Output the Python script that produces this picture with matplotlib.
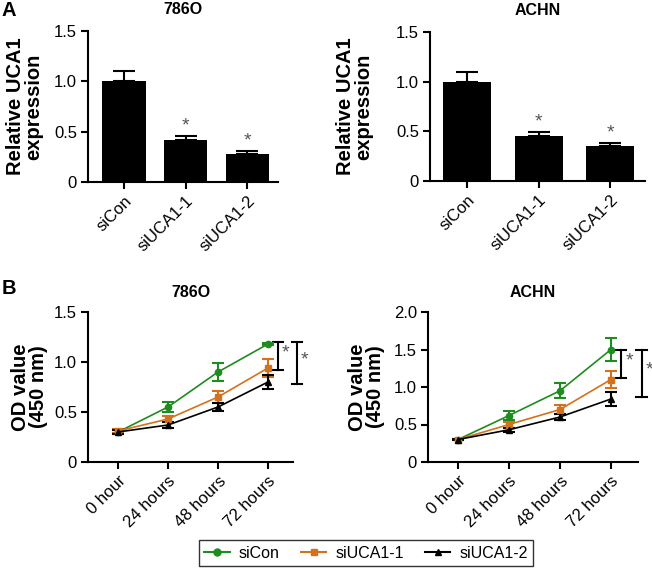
import matplotlib
matplotlib.use("Agg")
import matplotlib.pyplot as plt
from matplotlib.lines import Line2D

plt.rcParams['font.family'] = ['Liberation Sans', 'DejaVu Sans']

# ---------------- data ----------------
groups = ["siCon", "siUCA1-1", "siUCA1-2"]
bar_786o = [1.00, 0.42, 0.28]
bar_786o_err = [0.10, 0.04, 0.03]
bar_achn = [1.00, 0.45, 0.35]
bar_achn_err = [0.10, 0.04, 0.03]

times = ["0 hour", "24 hours", "48 hours", "72 hours"]
od_786o = {
    "siCon": [0.30, 0.55, 0.90, 1.18],
    "siUCA1-1": [0.31, 0.43, 0.65, 0.94],
    "siUCA1-2": [0.30, 0.37, 0.55, 0.80],
}
od_786o_err = {
    "siCon": [0.02, 0.05, 0.09, 0.01],
    "siUCA1-1": [0.02, 0.03, 0.06, 0.09],
    "siUCA1-2": [0.02, 0.03, 0.04, 0.07],
}
od_achn = {
    "siCon": [0.30, 0.62, 0.95, 1.50],
    "siUCA1-1": [0.30, 0.50, 0.70, 1.10],
    "siUCA1-2": [0.30, 0.43, 0.60, 0.84],
}
od_achn_err = {
    "siCon": [0.01, 0.06, 0.10, 0.15],
    "siUCA1-1": [0.01, 0.04, 0.06, 0.11],
    "siUCA1-2": [0.01, 0.03, 0.04, 0.09],
}
# significance brackets: (top, bottom)
sig_786o = [(1.20, 0.92), (1.20, 0.78)]
sig_achn = [(1.50, 1.12), (1.50, 0.87)]

colors = {"siCon": "#1e8c1e", "siUCA1-1": "#d2721c", "siUCA1-2": "#000000"}
markers = {"siCon": "o", "siUCA1-1": "s", "siUCA1-2": "^"}

W, H = 652, 569
fig = plt.figure(figsize=(W / 100, H / 100), dpi=100)

TICK_FS = 12
LABEL_FS = 14.5
TITLE_FS = 11.5


def ax_px(x0, x1, ytop, ybot):
    return fig.add_axes([x0 / W, 1 - ybot / H, (x1 - x0) / W, (ybot - ytop) / H])


def style(ax):
    for s in ["top", "right"]:
        ax.spines[s].set_visible(False)
    for s in ["left", "bottom"]:
        ax.spines[s].set_linewidth(1.5)
    ax.tick_params(axis="both", width=1.5, length=5, labelsize=TICK_FS,
                   direction="out", pad=3)


def bar_panel(ax, vals, errs, title, xlim, width, labx):
    style(ax)
    x = list(range(len(groups)))
    ax.bar(x, vals, width=width, color="black", zorder=2)
    ax.errorbar(x, vals, yerr=[[0] * len(errs), errs], fmt="none", ecolor="black",
                elinewidth=1.5, capsize=8, capthick=1.5, zorder=1)
    for i in range(1, len(groups)):
        ax.text(i, vals[i] + errs[i] + 0.015, "*", ha="center", va="bottom",
                fontsize=14, color="#555555")
    ax.set_xlim(*xlim)
    ax.set_ylim(0, 1.5)
    ax.set_yticks([0, 0.5, 1.0, 1.5])
    ax.set_yticklabels(["0", "0.5", "1.0", "1.5"])
    ax.set_xticks(x)
    ax.set_xticklabels(groups, rotation=45, ha="right", rotation_mode="anchor")
    ax.set_ylabel("Relative UCA1\nexpression", fontsize=LABEL_FS, fontweight="bold",
                  linespacing=0.95)
    ax.yaxis.set_label_coords(labx, 0.5)
    ax.set_title(title, fontsize=TITLE_FS, fontweight="bold", pad=12.5)


def line_panel(ax, data, errs, title, xlim, ylim, yticks, yticklabels, sig, sigx, labx):
    style(ax)
    x = list(range(len(times)))
    for g in groups:
        ax.errorbar(x, data[g], yerr=errs[g], color=colors[g], marker=markers[g],
                    markersize=4.5, linewidth=1.2, elinewidth=1.5, capsize=4,
                    capthick=1.5, clip_on=False, zorder=3)
    ax.set_xlim(*xlim)
    ax.set_ylim(*ylim)
    ax.set_yticks(yticks)
    ax.set_yticklabels(yticklabels)
    ax.set_xticks(x)
    ax.set_xticklabels(times, rotation=45, ha="right", rotation_mode="anchor")
    ax.set_ylabel("OD value\n(450 nm)", fontsize=LABEL_FS, fontweight="bold",
                  linespacing=0.95)
    ax.yaxis.set_label_coords(labx, 0.5)
    ax.set_title(title, fontsize=TITLE_FS, fontweight="bold", pad=11)
    for (top, bot), bx in zip(sig, sigx):
        ax.plot([bx, bx], [bot, top], color="black", lw=1.5, clip_on=False)
        ax.plot([bx - 0.1, bx + 0.1], [top, top], color="black", lw=1.5, clip_on=False)
        ax.plot([bx - 0.1, bx + 0.1], [bot, bot], color="black", lw=1.5, clip_on=False)
        ax.text(bx + 0.08, (top + bot) / 2 + 0.02 * ylim[1], "*", ha="left",
                va="center", fontsize=14, color="#555555", clip_on=False)


axA1 = ax_px(88, 278, 31, 182)
bar_panel(axA1, bar_786o, bar_786o_err, "786O", (-0.585, 2.5), 0.7, -0.237)
axA2 = ax_px(430, 645, 32, 181)
bar_panel(axA2, bar_achn, bar_achn_err, "ACHN", (-0.52, 2.49), 0.67, -0.265)

axB1 = ax_px(88, 293, 312, 462)
line_panel(axB1, od_786o, od_786o_err, "786O", (-0.6, 3.5), (0, 1.5),
           [0, 0.5, 1.0, 1.5], ["0", "0.5", "1.0", "1.5"], sig_786o, [3.2, 3.58],
           -0.195)
axB2 = ax_px(428, 638, 312, 462)
line_panel(axB2, od_achn, od_achn_err, "ACHN", (-0.59, 3.53), (0, 2.0),
           [0, 0.5, 1.0, 1.5, 2.0], ["0", "0.5", "1.0", "1.5", "2.0"], sig_achn,
           [3.2, 3.6], -0.205)

fig.text(2 / W, 1 - 11 / H, "A", fontsize=14.5, fontweight="bold", va="center")
fig.text(2 / W, 1 - 289 / H, "B", fontsize=14.5, fontweight="bold", va="center")

handles = [Line2D([0], [0], color=colors[g], marker=markers[g], markersize=5,
                  linewidth=1.5, label=g) for g in groups]
leg = fig.legend(handles=handles, loc="center", bbox_to_anchor=(366 / W, 1 - 553 / H),
                 ncol=3, frameon=True, fancybox=False, fontsize=11.5,
                 handlelength=1.6, columnspacing=1.33, handletextpad=0.55,
                 borderpad=0.35, borderaxespad=0)
leg.get_frame().set_edgecolor("black")
leg.get_frame().set_linewidth(1.0)

fig.savefig("out.png", dpi=100)
